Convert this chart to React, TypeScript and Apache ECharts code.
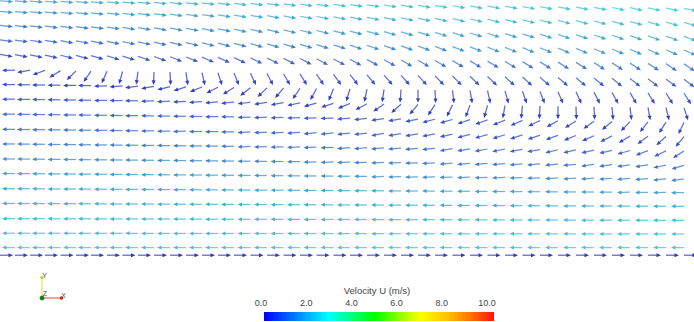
import React, { useEffect, useRef } from "react";
import * as echarts from "echarts";

// Domain (m)
const X_MAX = 3.47;
const Y_MAX = 1.3;

// mesh column x positions (m)
const xs = [0, 0.075, 0.15, 0.225, 0.3025, 0.38, 0.455, 0.535, 0.6125, 0.69, 0.77, 0.85, 0.93, 1.01, 1.09, 1.17, 1.2525, 1.335, 1.4175, 1.5, 1.5825, 1.6675, 1.75, 1.835, 1.92, 2.005, 2.09, 2.175, 2.2625, 2.35, 2.4375, 2.525, 2.6125, 2.7, 2.79, 2.88, 2.97, 3.06, 3.15, 3.24, 3.33, 3.42];

// mesh row heights (m) at the left and right ends of the domain
const rowYLeft = [1.296, 1.243, 1.173, 1.101, 1.028, 0.951, 0.878, 0.805, 0.73, 0.654, 0.581, 0.506, 0.433, 0.357, 0.283, 0.207, 0.134, 0.062, 0.024];
const rowYRight = [1.258, 1.187, 1.117, 1.049, 0.98, 0.903, 0.833, 0.76, 0.688, 0.616, 0.544, 0.473, 0.405, 0.337, 0.268, 0.198, 0.13, 0.062, 0.024];

// flow direction (degrees, counter-clockwise from +x), one array per mesh row
const dir0 = [-4,-4,-4,-4,-5,-5,-5,-5,-5,-5,-6,-6,-6,-6,-7,-7,-7,-7,-8,-8,-8,-8,-8,-9,-9,-9,-9,-9,-10,-10,-10,-10,-11,-11,-11,-11,-11,-12,-12,-12,-12,-12];
const dir1 = [-5,-5,-5,-5,-6,-6,-6,-6,-7,-7,-7,-8,-8,-8,-9,-9,-9,-10,-10,-10,-11,-11,-11,-12,-12,-12,-13,-13,-13,-13,-14,-14,-14,-14,-15,-15,-15,-15,-15,-16,-16,-16];
const dir2 = [-6,-6,-7,-7,-7,-8,-8,-8,-9,-9,-10,-10,-10,-11,-11,-12,-12,-13,-13,-14,-14,-15,-15,-15,-16,-16,-16,-17,-17,-17,-18,-18,-18,-18,-19,-19,-19,-19,-20,-20,-20,-20];
const dir3 = [-8,-8,-9,-9,-10,-10,-11,-11,-12,-12,-13,-13,-14,-14,-15,-15,-16,-16,-17,-17,-18,-18,-19,-19,-20,-20,-20,-21,-21,-21,-22,-22,-22,-22,-23,-23,-23,-23,-24,-24,-24,-24];
const dir4 = [-10,-11,-12,-13,-14,-15,-16,-17,-18,-19,-20,-21,-22,-23,-24,-25,-26,-26,-27,-27,-28,-28,-29,-29,-29,-30,-30,-30,-31,-31,-31,-31,-32,-32,-32,-32,-33,-33,-33,-33,-34,-34];
const dir5 = [180,182,190,200,212,225,236,246,255,262,268,273,278,283,288,292,295,298,300,302,304,306,308,310,311,312,313,314,315,316,317,318,318,319,320,320,321,321,322,322,323,323];
const dir6 = [180,180,180,180,180,180,180,182,184,187,190,194,198,202,207,212,218,224,230,236,242,248,253,258,262,266,270,273,277,280,283,286,289,291,293,295,297,299,300,301,302,303];
const dir7 = [180,180,180,180,180,180,180,180,180,180,181,182,183,184,185,186,187,188,190,192,195,198,202,208,215,222,230,237,244,250,255,260,264,267,270,272,273,275,277,280,284,288];
const dir8 = [180,180,180,180,180,180,180,180,180,180,180,180,180,180,180,180,182,182,182,182,182,182,184,186,188,190,192,194,196,198,200,202,204,206,209,212,216,220,226,232,238,245];
const dir9 = [180,180,180,180,180,180,180,180,180,180,180,181,181,181,181,181,183,183,183,183,186,186,186,186,190,190,190,190,193,195,196,197,198,199,200,202,204,207,211,216,222,230];
const dir10 = [180,180,180,180,180,180,180,180,180,180,180,180,180,180,180,180,182,182,182,182,182,182,185,185,185,185,185,185,190,190,190,190,190,190,193,193,193,193,196,200,205,212];
const dir11 = [180,180,180,180,180,180,180,180,180,180,180,180,180,180,180,180,180,180,180,180,182,182,182,182,182,182,182,182,185,185,185,185,185,185,185,185,188,188,188,188,192,197];
const dir12 = [180,180,180,180,180,180,180,180,180,180,180,180,180,180,180,180,180,180,180,180,180,180,180,180,182,182,182,182,182,182,182,182,182,182,184,184,184,184,184,184,186,188];
const dir13 = [180,180,180,180,180,180,180,180,180,180,180,180,180,180,180,180,180,180,180,180,180,180,180,180,180,180,180,180,180,180,180,180,180,180,180,180,180,180,181,181,181,181];
const dir14 = [180,180,180,180,180,180,180,180,180,180,180,180,180,180,180,180,180,180,180,180,180,180,180,180,180,180,180,180,180,180,180,180,180,180,180,180,180,180,180,180,180,180];
const dir15 = [180,180,180,180,180,180,180,180,180,180,180,180,180,180,180,180,180,180,180,180,180,180,180,180,180,180,180,180,180,180,180,180,180,180,180,180,180,180,180,180,180,180];
const dir16 = [180,180,180,180,180,180,180,180,180,180,180,180,180,180,180,180,180,180,180,180,180,180,180,180,180,180,180,180,180,180,180,180,180,180,180,180,180,180,180,180,180,180];
const dir17 = [180,180,180,180,180,180,180,180,180,180,180,180,180,180,180,180,180,180,180,180,180,180,180,180,180,180,180,180,180,180,180,180,180,180,180,180,180,180,180,180,180,180];
const dir18 = [0,0,0,0,0,0,0,0,0,0,0,0,0,0,0,0,0,0,0,0,0,0,0,0,0,0,0,0,0,0,0,0,0,0,0,0,0,0,0,0,0,0];

// velocity magnitude U (m/s), one array per mesh row
const u0 = [1.9,1.9,1.9,2.0,2.0,2.0,2.0,2.1,2.1,2.1,2.1,2.2,2.2,2.2,2.2,2.3,2.3,2.3,2.3,2.4,2.4,2.4,2.4,2.5,2.5,2.5,2.5,2.6,2.6,2.6,2.6,2.6,2.7,2.7,2.7,2.7,2.7,2.8,2.8,2.8,2.8,2.8];
const u1 = [1.6,1.6,1.6,1.7,1.7,1.7,1.7,1.8,1.8,1.8,1.8,1.9,1.9,1.9,1.9,2.0,2.0,2.0,2.0,2.1,2.1,2.1,2.1,2.2,2.2,2.2,2.2,2.3,2.3,2.3,2.3,2.3,2.4,2.4,2.4,2.4,2.4,2.5,2.5,2.5,2.5,2.5];
const u2 = [1.2,1.2,1.2,1.3,1.3,1.3,1.3,1.4,1.4,1.4,1.4,1.5,1.5,1.5,1.5,1.6,1.6,1.6,1.6,1.7,1.7,1.7,1.7,1.8,1.8,1.8,1.8,1.9,1.9,1.9,1.9,1.9,2.0,2.0,2.0,2.0,2.0,2.1,2.1,2.1,2.1,2.1];
const u3 = [0.9,0.9,0.9,1.0,1.0,1.0,1.0,1.1,1.1,1.1,1.1,1.2,1.2,1.2,1.2,1.3,1.3,1.3,1.3,1.4,1.4,1.4,1.4,1.5,1.5,1.5,1.5,1.5,1.6,1.6,1.6,1.6,1.6,1.7,1.7,1.7,1.7,1.7,1.7,1.7,1.7,1.7];
const u4 = [0.5,0.5,0.5,0.5,0.6,0.6,0.6,0.6,0.7,0.7,0.7,0.7,0.8,0.8,0.8,0.8,0.9,0.9,0.9,0.9,1.0,1.0,1.0,1.0,1.0,1.1,1.1,1.1,1.1,1.1,1.1,1.2,1.2,1.2,1.2,1.2,1.2,1.2,1.2,1.2,1.2,1.2];
const u5 = [0.5,0.5,0.45,0.4,0.35,0.3,0.3,0.3,0.3,0.3,0.3,0.3,0.3,0.35,0.35,0.4,0.4,0.4,0.45,0.45,0.5,0.5,0.5,0.55,0.55,0.6,0.6,0.6,0.65,0.65,0.65,0.7,0.7,0.7,0.7,0.75,0.75,0.75,0.8,0.8,0.8,0.8];
const u6 = [0.55,0.55,0.5,0.5,0.5,0.45,0.45,0.4,0.4,0.4,0.35,0.35,0.35,0.3,0.3,0.3,0.3,0.3,0.3,0.3,0.3,0.3,0.3,0.3,0.3,0.3,0.35,0.35,0.35,0.4,0.4,0.4,0.4,0.45,0.45,0.45,0.45,0.5,0.5,0.5,0.5,0.5];
const u7 = [0.8,0.8,0.8,0.8,0.75,0.75,0.75,0.7,0.7,0.7,0.65,0.65,0.6,0.6,0.6,0.55,0.55,0.5,0.5,0.5,0.45,0.45,0.4,0.4,0.4,0.35,0.35,0.35,0.3,0.3,0.3,0.3,0.3,0.3,0.35,0.35,0.35,0.35,0.4,0.4,0.4,0.4];
const u8 = [1.0,1.0,1.0,1.0,1.0,0.95,0.95,0.95,0.9,0.9,0.9,0.9,0.85,0.85,0.85,0.8,0.8,0.8,0.8,0.75,0.75,0.75,0.7,0.7,0.7,0.65,0.65,0.6,0.6,0.6,0.55,0.55,0.55,0.5,0.5,0.5,0.5,0.45,0.45,0.45,0.45,0.45];
const u9 = [1.15,1.15,1.15,1.15,1.15,1.1,1.1,1.1,1.1,1.1,1.05,1.05,1.05,1.05,1.0,1.0,1.0,1.0,1.0,0.95,0.95,0.95,0.9,0.9,0.9,0.85,0.85,0.8,0.8,0.8,0.75,0.75,0.7,0.7,0.7,0.65,0.65,0.6,0.6,0.6,0.55,0.55];
const u10 = [1.35,1.35,1.35,1.35,1.35,1.35,1.3,1.3,1.3,1.3,1.3,1.3,1.25,1.25,1.25,1.25,1.2,1.2,1.2,1.2,1.15,1.15,1.15,1.1,1.1,1.1,1.05,1.05,1.05,1.0,1.0,1.0,0.95,0.95,0.95,0.9,0.9,0.9,0.85,0.85,0.8,0.8];
const u11 = [1.55,1.55,1.55,1.55,1.55,1.55,1.55,1.5,1.5,1.5,1.5,1.5,1.5,1.45,1.45,1.45,1.45,1.45,1.4,1.4,1.4,1.4,1.35,1.35,1.35,1.35,1.3,1.3,1.3,1.3,1.25,1.25,1.25,1.2,1.2,1.2,1.2,1.15,1.15,1.15,1.1,1.1];
const u12 = [1.8,1.8,1.8,1.8,1.8,1.8,1.8,1.8,1.75,1.75,1.75,1.75,1.75,1.75,1.7,1.7,1.7,1.7,1.7,1.7,1.65,1.65,1.65,1.65,1.65,1.6,1.6,1.6,1.6,1.55,1.55,1.55,1.55,1.5,1.5,1.5,1.5,1.45,1.45,1.45,1.4,1.4];
const u13 = [2.0,2.0,2.0,2.0,2.0,2.0,2.0,2.0,2.0,2.0,1.95,1.95,1.95,1.95,1.95,1.95,1.95,1.95,1.95,1.95,1.9,1.9,1.9,1.9,1.9,1.9,1.9,1.9,1.9,1.9,1.85,1.85,1.85,1.85,1.85,1.85,1.85,1.85,1.8,1.8,1.8,1.8];
const u14 = [2.15,2.15,2.15,2.15,2.15,2.15,2.15,2.15,2.15,2.15,2.15,2.15,2.15,2.15,2.1,2.1,2.1,2.1,2.1,2.1,2.1,2.1,2.1,2.1,2.1,2.1,2.1,2.1,2.05,2.05,2.05,2.05,2.05,2.05,2.05,2.05,2.05,2.05,2.05,2.05,2.05,2.05];
const u15 = [2.3,2.3,2.3,2.3,2.3,2.3,2.3,2.3,2.3,2.3,2.3,2.3,2.3,2.3,2.3,2.3,2.3,2.3,2.3,2.3,2.3,2.35,2.35,2.35,2.35,2.35,2.35,2.35,2.35,2.35,2.35,2.35,2.35,2.35,2.35,2.35,2.35,2.35,2.35,2.35,2.35,2.35];
const u16 = [2.5,2.5,2.5,2.5,2.5,2.5,2.5,2.5,2.5,2.5,2.5,2.5,2.5,2.5,2.5,2.5,2.5,2.5,2.5,2.5,2.5,2.55,2.55,2.55,2.55,2.55,2.55,2.55,2.55,2.55,2.55,2.55,2.55,2.55,2.55,2.55,2.55,2.55,2.55,2.55,2.55,2.55];
const u17 = [2.65,2.65,2.65,2.65,2.65,2.65,2.65,2.65,2.65,2.65,2.65,2.65,2.65,2.65,2.65,2.65,2.65,2.65,2.65,2.65,2.65,2.7,2.7,2.7,2.7,2.7,2.7,2.7,2.7,2.7,2.7,2.7,2.7,2.7,2.7,2.7,2.7,2.7,2.7,2.7,2.7,2.7];
const u18 = [0.25,0.25,0.25,0.25,0.25,0.25,0.25,0.25,0.25,0.25,0.25,0.25,0.25,0.25,0.25,0.25,0.25,0.25,0.25,0.25,0.25,0.25,0.25,0.25,0.25,0.25,0.25,0.25,0.25,0.25,0.25,0.25,0.25,0.25,0.25,0.25,0.25,0.25,0.25,0.25,0.25,0.25];

const dirRows = [dir0, dir1, dir2, dir3, dir4, dir5, dir6, dir7, dir8, dir9, dir10, dir11, dir12, dir13, dir14, dir15, dir16, dir17, dir18];
const uRows = [u0, u1, u2, u3, u4, u5, u6, u7, u8, u9, u10, u11, u12, u13, u14, u15, u16, u17, u18];

// colour bar
const U_MIN = 0;
const U_MAX = 10;
const colorbarTitle = "Velocity U (m/s)";
const barStops = [
  [0, "#0000ff"],
  [0.28, "#00ffff"],
  [0.48, "#00ff00"],
  [0.68, "#ffff00"],
  [0.8, "#ffc000"],
  [0.9, "#ff7000"],
  [1, "#ff1010"],
];
// shaded glyph colours (0..10 in 0.4 steps)
const glyphPalette = [
  "#2222b0", "#2838bc", "#3052c4", "#3670ca", "#388ecb", "#38a6ca", "#38bacd", "#38ccd0",
  "#30d0b8", "#30d0a0", "#30d088", "#30d070", "#30d050", "#58d040", "#80d040", "#a0d040",
  "#c0d040", "#d8d040", "#e0c840", "#e0b040", "#e09840", "#e08040", "#e06840", "#e05040",
  "#e03838", "#e02020",
];

function buildData() {
  const data: number[][] = [];
  for (let r = 0; r < dirRows.length; r++) {
    for (let c = 0; c < xs.length; c++) {
      const x = xs[c];
      const y = rowYLeft[r] + (rowYRight[r] - rowYLeft[r]) * (x / X_MAX);
      data.push([x, y, dirRows[r][c], uRows[r][c]]);
    }
  }
  return data;
}

export default function App() {
  const ref = useRef<HTMLDivElement>(null);
  useEffect(() => {
    if (!ref.current) return;
    const chart = echarts.init(ref.current, null, { renderer: "svg" });
    const font = "Liberation Sans, Arial, sans-serif";
    const option: any = {
      animation: false,
      backgroundColor: "#ffffff",
      grid: [
        { left: 0, top: 0, width: 694, height: 260 },
        { left: 264, top: 312, width: 226, height: 9 },
      ],
      xAxis: [
        { gridIndex: 0, type: "value", min: 0, max: X_MAX, show: false },
        {
          gridIndex: 1, type: "value", min: U_MIN, max: U_MAX, interval: 2, position: "top",
          name: colorbarTitle, nameLocation: "middle", nameGap: 17,
          nameTextStyle: { fontSize: 9.5, color: "#444", fontFamily: font },
          axisLine: { show: false },
          axisTick: { show: true, length: 5, lineStyle: { color: "#333", width: 1 } },
          splitLine: { show: false },
          axisLabel: {
            formatter: (v: number) => v.toFixed(1), fontSize: 9, color: "#444", margin: 5,
            fontFamily: font, padding: [0, 6, 0, 0],
          },
        },
      ],
      yAxis: [
        { gridIndex: 0, type: "value", min: 0, max: Y_MAX, show: false },
        { gridIndex: 1, type: "value", min: 0, max: 1, show: false },
      ],
      visualMap: [
        {
          type: "continuous", show: false, seriesIndex: 0, dimension: 3,
          min: U_MIN, max: U_MAX, inRange: { color: glyphPalette },
        },
      ],
      series: [
        {
          type: "custom",
          xAxisIndex: 0, yAxisIndex: 0,
          clip: false,
          encode: { x: 0, y: 1 },
          data: buildData(),
          renderItem: (params: any, api: any) => {
            const p = api.coord([api.value(0), api.value(1)]);
            const a = (api.value(2) * Math.PI) / 180;
            const ux = Math.cos(a);
            const uy = -Math.sin(a);
            const L = 13, HL = 4.5, HW = 2.0;
            const bx = p[0] + ux * (L - HL), by = p[1] + uy * (L - HL);
            const tx = p[0] + ux * L, ty = p[1] + uy * L;
            const nx = -uy, ny = ux;
            const color = api.visual("color");
            return {
              type: "group",
              children: [
                {
                  type: "line",
                  shape: { x1: p[0], y1: p[1], x2: bx + ux * 0.5, y2: by + uy * 0.5 },
                  style: { stroke: color, lineWidth: 1.25, opacity: 0.75 },
                },
                {
                  type: "polygon",
                  shape: { points: [[tx, ty], [bx + nx * HW, by + ny * HW], [bx - nx * HW, by - ny * HW]] },
                  style: { fill: color, opacity: 0.95 },
                },
              ],
            };
          },
        },
        {
          type: "custom",
          xAxisIndex: 1, yAxisIndex: 1,
          clip: false,
          data: [[U_MIN, U_MAX]],
          encode: { x: [0, 1] },
          renderItem: (params: any, api: any) => {
            const a = api.coord([api.value(0), 1]);
            const b = api.coord([api.value(1), 0]);
            return {
              type: "rect",
              shape: { x: a[0], y: a[1], width: b[0] - a[0] + 4, height: b[1] - a[1] },
              style: {
                fill: new echarts.graphic.LinearGradient(0, 0, 1, 0,
                  barStops.map(([o, c]) => ({ offset: o as number, color: c as string }))),
              },
            };
          },
        },
      ],
      graphic: [
        { type: "line", shape: { x1: 42, y1: 298, x2: 42, y2: 278 }, style: { stroke: "#eded70", lineWidth: 1.5 } },
        { type: "circle", shape: { cx: 42, cy: 277.5, r: 1.8 }, style: { fill: "#d6d040" } },
        { type: "line", shape: { x1: 42, y1: 298, x2: 61, y2: 298 }, style: { stroke: "#f08080", lineWidth: 1.5 } },
        { type: "circle", shape: { cx: 61.5, cy: 298, r: 1.8 }, style: { fill: "#e02020" } },
        { type: "circle", shape: { cx: 42, cy: 298, r: 2.4 }, style: { fill: "#187818" } },
        { type: "text", x: 44.5, y: 275, style: { text: "Y", fontSize: 7, fill: "#555", align: "center", verticalAlign: "middle", fontFamily: font } },
        { type: "text", x: 45, y: 293.5, style: { text: "Z", fontSize: 7, fill: "#555", align: "center", verticalAlign: "middle", fontFamily: font } },
        { type: "text", x: 63.5, y: 295, style: { text: "X", fontSize: 7, fill: "#555", align: "center", verticalAlign: "middle", fontFamily: font } },
      ],
    };
    chart.setOption(option);
    return () => chart.dispose();
  }, []);
  return (
    <div
      ref={ref}
      style={{ position: "fixed", left: 0, top: 0, width: 694, height: 322, background: "#fff" }}
    />
  );
}
